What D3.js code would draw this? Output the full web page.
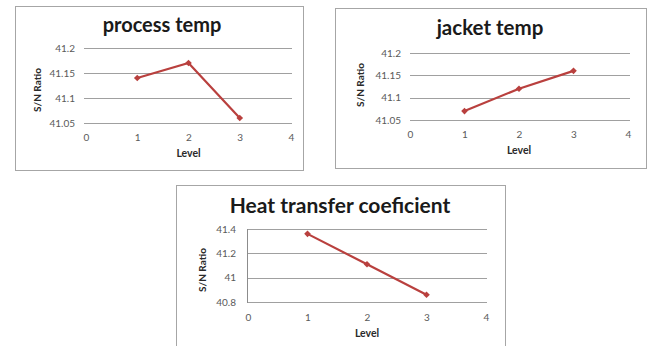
<!DOCTYPE html>
<html><head><meta charset="utf-8">
<script src="https://cdn.jsdelivr.net/npm/d3@7"></script>
<style>
html,body{margin:0;padding:0;background:#fff;}
svg{display:block;}
</style></head>
<body>
<script>
const levels = [1, 2, 3];
const processTemp = [41.14, 41.17, 41.06];
const jacketTemp = [41.07, 41.12, 41.16];
const heatTransfer = [41.36, 41.11, 40.86];
const xTicks = [0, 1, 2, 3, 4];
const yTicksTemp = [41.05, 41.1, 41.15, 41.2];
const yTicksHeat = [40.8, 41, 41.2, 41.4];
const titles = ["process temp", "jacket temp", "Heat transfer coeficient"];
const yLabel = "S/N Ratio";
const xLabel = "Level";

const svg = d3.select("body").append("svg").attr("width", 650).attr("height", 346);
const FONT = "Lato, 'Open Sans', sans-serif";
const LINE = "#b9403e";

const panels = [
  {title: titles[0], values: processTemp, yTicks: yTicksTemp,
   box: [15, 6, 303, 170], xr: [86, 291], yr: [123, 48], gridL: 84, gridR: 292, vAxis: false,
   titleX: 162, titleY: 32, ylabX: 37, ylabY: 90, xlabY: 137, levelY: 153, tsize: 20, ytR: 75},
  {title: titles[1], values: jacketTemp, yTicks: yTicksTemp,
   box: [335, 8, 646, 168], xr: [410, 628], yr: [120, 53], gridL: 410, gridR: 630, vAxis: false,
   titleX: 490, titleY: 35, ylabX: 360, ylabY: 85, xlabY: 134, levelY: 150, tsize: 20.5, ytR: 401},
  {title: titles[2], values: heatTransfer, yTicks: yTicksHeat,
   box: [176, 185, 505, 360], xr: [248, 486], yr: [302, 229], gridL: 247, gridR: 487, vAxis: true,
   titleX: 340, titleY: 213, ylabX: 202, ylabY: 270, xlabY: 317, levelY: 333, tsize: 21, ytR: 236}
];

panels.forEach(p => {
  const g = svg.append("g");
  const [x0, y0, x1, y1] = p.box;
  g.append("rect").attr("x", x0 + 0.5).attr("y", y0 + 0.5)
    .attr("width", x1 - x0).attr("height", y1 - y0)
    .attr("fill", "#fff").attr("stroke", "#a6a6a6").attr("stroke-width", 1);

  const x = d3.scaleLinear().domain([0, 4]).range(p.xr);
  const y = d3.scaleLinear().domain([p.yTicks[0], p.yTicks[p.yTicks.length - 1]]).range(p.yr);

  // gridlines
  g.selectAll(".grid").data(p.yTicks).enter().append("line")
    .attr("x1", p.gridL).attr("x2", p.gridR)
    .attr("y1", d => Math.round(y(d)) + 0.5).attr("y2", d => Math.round(y(d)) + 0.5)
    .attr("stroke", "#a0a0a0").attr("stroke-width", 1);
  if (p.vAxis) {
    g.append("line").attr("x1", p.gridL + 0.5).attr("x2", p.gridL + 0.5)
      .attr("y1", p.yr[1]).attr("y2", p.yr[0] + 1)
      .attr("stroke", "#8c8c8c").attr("stroke-width", 1);
  }

  // y axis labels
  const ya = g.append("g").attr("transform", `translate(${p.ytR},0)`)
    .call(d3.axisLeft(y).tickValues(p.yTicks).tickFormat(d => String(d)).tickSize(0).tickPadding(0));
  ya.select(".domain").remove();
  ya.selectAll("text").attr("font-size", 10).attr("fill", "#5a5a5a").attr("font-family", FONT);

  // x axis labels
  const xa = g.append("g").attr("transform", `translate(0,${p.xlabY})`)
    .call(d3.axisBottom(x).tickValues(xTicks).tickFormat(d3.format("d")).tickSize(0).tickPadding(0));
  xa.select(".domain").remove();
  xa.selectAll("text").attr("dy", "0.35em").attr("font-size", 10).attr("fill", "#5a5a5a").attr("font-family", FONT);

  // title
  g.append("text").attr("x", p.titleX).attr("y", p.titleY).attr("text-anchor", "middle")
    .attr("font-family", FONT).attr("font-weight", "bold").attr("font-size", p.tsize)
    .attr("fill", "#1a1a1a").text(p.title);

  // axis titles
  g.append("text").attr("transform", `translate(${p.ylabX},${p.ylabY}) rotate(-90)`)
    .attr("text-anchor", "middle").attr("dy", "0.35em")
    .attr("font-family", FONT).attr("font-weight", "bold").attr("font-size", 10)
    .attr("fill", "#2a2a2a").text(yLabel);
  g.append("text").attr("x", x(2)).attr("y", p.levelY).attr("dy", "0.35em").attr("text-anchor", "middle")
    .attr("font-family", FONT).attr("font-weight", "bold").attr("font-size", 10.5)
    .attr("fill", "#2a2a2a").text(xLabel);

  // line
  const pts = levels.map((l, i) => [l, p.values[i]]);
  g.append("path").datum(pts)
    .attr("d", d3.line().x(d => x(d[0])).y(d => y(d[1])))
    .attr("fill", "none").attr("stroke", LINE).attr("stroke-width", 2.2);
  g.selectAll(".pt").data(pts).enter().append("path")
    .attr("transform", d => `translate(${x(d[0])},${y(d[1])}) rotate(45)`)
    .attr("d", d3.symbol().type(d3.symbolSquare).size(22))
    .attr("fill", LINE);
});
</script>
</body></html>
